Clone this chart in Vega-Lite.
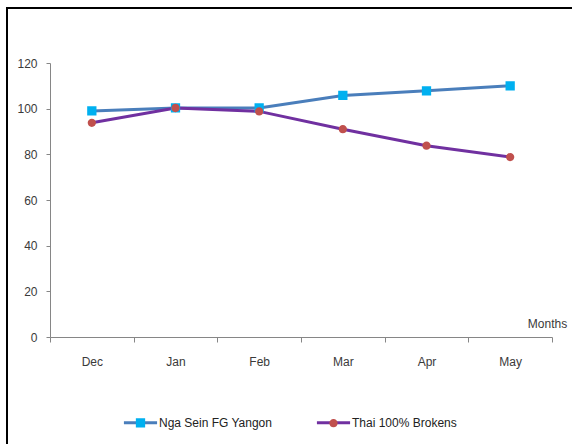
{
  "$schema": "https://vega.github.io/schema/vega-lite/v6.json",
  "width": 570,
  "height": 440,
  "autosize": {"type": "none"},
  "padding": {"left": 7, "top": 8, "right": 0, "bottom": 0},
  "background": "white",
  "config": {
    "view": {"stroke": "#000000", "strokeWidth": 2},
    "font": "Liberation Sans",
    "axis": {
      "grid": false,
      "domainColor": "#868686",
      "tickColor": "#868686",
      "labelFont": "Liberation Sans",
      "labelFontSize": 12,
      "labelColor": "#3a3a3a",
      "titleFont": "Liberation Sans",
      "titleFontSize": 12,
      "titleFontWeight": "normal",
      "titleColor": "#3a3a3a"
    },
    "legend": {
      "orient": "none",
      "direction": "horizontal",
      "legendX": 115,
      "legendY": 396,
      "title": null,
      "labelFont": "Liberation Sans",
      "labelFontSize": 12,
      "labelColor": "#222222",
      "labelOffset": 0,
      "columnPadding": 37,
      "symbolSize": 1100,
      "symbolStrokeWidth": 3
    }
  },
  "data": {
    "values": [
      {"month": "Dec", "series": "Nga Sein FG Yangon", "value": 99},
      {"month": "Jan", "series": "Nga Sein FG Yangon", "value": 100.3},
      {"month": "Feb", "series": "Nga Sein FG Yangon", "value": 100.3},
      {"month": "Mar", "series": "Nga Sein FG Yangon", "value": 105.8},
      {"month": "Apr", "series": "Nga Sein FG Yangon", "value": 107.8},
      {"month": "May", "series": "Nga Sein FG Yangon", "value": 110},
      {"month": "Dec", "series": "Thai 100% Brokens", "value": 93.8},
      {"month": "Jan", "series": "Thai 100% Brokens", "value": 100.3},
      {"month": "Feb", "series": "Thai 100% Brokens", "value": 98.8},
      {"month": "Mar", "series": "Thai 100% Brokens", "value": 91},
      {"month": "Apr", "series": "Thai 100% Brokens", "value": 83.8},
      {"month": "May", "series": "Thai 100% Brokens", "value": 78.8}
    ]
  },
  "encoding": {
    "x": {
      "field": "month",
      "type": "nominal",
      "sort": ["Dec", "Jan", "Feb", "Mar", "Apr", "May"],
      "bandPosition": 0.5,
      "scale": {"type": "band", "range": [43, 545], "paddingInner": 0, "paddingOuter": 0},
      "axis": {
        "offset": -111,
        "tickBand": "extent",
        "tickSize": 5,
        "labelPadding": 14,
        "labelAngle": 0,
        "title": "Months",
        "titleX": 540,
        "titleY": -10,
        "titleAlign": "center",
        "titleBaseline": "alphabetic",
        "titleAnchor": null
      }
    },
    "y": {
      "field": "value",
      "type": "quantitative",
      "scale": {"domain": [0, 120], "range": [329, 55], "nice": false, "zero": true},
      "axis": {
        "offset": -43,
        "values": [0, 20, 40, 60, 80, 100, 120],
        "tickSize": 4,
        "labelPadding": 9,
        "title": null
      }
    }
  },
  "layer": [
    {
      "mark": {"type": "line", "strokeWidth": 3},
      "encoding": {
        "stroke": {
          "field": "series",
          "type": "nominal",
          "scale": {
            "domain": ["Nga Sein FG Yangon", "Thai 100% Brokens"],
            "range": ["#4a7ebb", "#7030a0"]
          },
          "legend": {
            "symbolType": "M-1,0H1",
            "symbolSize": 1100,
            "symbolStrokeWidth": 3,
            "symbolFillColor": "transparent"
          }
        }
      }
    },
    {
      "mark": {"type": "point", "filled": true, "opacity": 1, "size": 1100},
      "encoding": {
        "fill": {
          "field": "series",
          "type": "nominal",
          "scale": {"range": ["#00b0f0", "#c0504d"]},
          "legend": {
            "labelOpacity": 0,
            "symbolSize": 1100,
            "symbolStrokeWidth": 3,
            "symbolStrokeColor": "transparent"
          }
        },
        "shape": {
          "field": "series",
          "type": "nominal",
          "scale": {
            "range": [
              "M-1,0H1M-0.28,-0.28H0.28V0.28H-0.28Z",
              "M-1,0H1M-0.25,0A0.25,0.25 0 1,0 0.25,0A0.25,0.25 0 1,0 -0.25,0Z"
            ]
          },
          "legend": {
            "labelOpacity": 0,
            "symbolSize": 1100,
            "symbolStrokeWidth": 3,
            "symbolStrokeColor": "transparent"
          }
        }
      }
    }
  ]
}
